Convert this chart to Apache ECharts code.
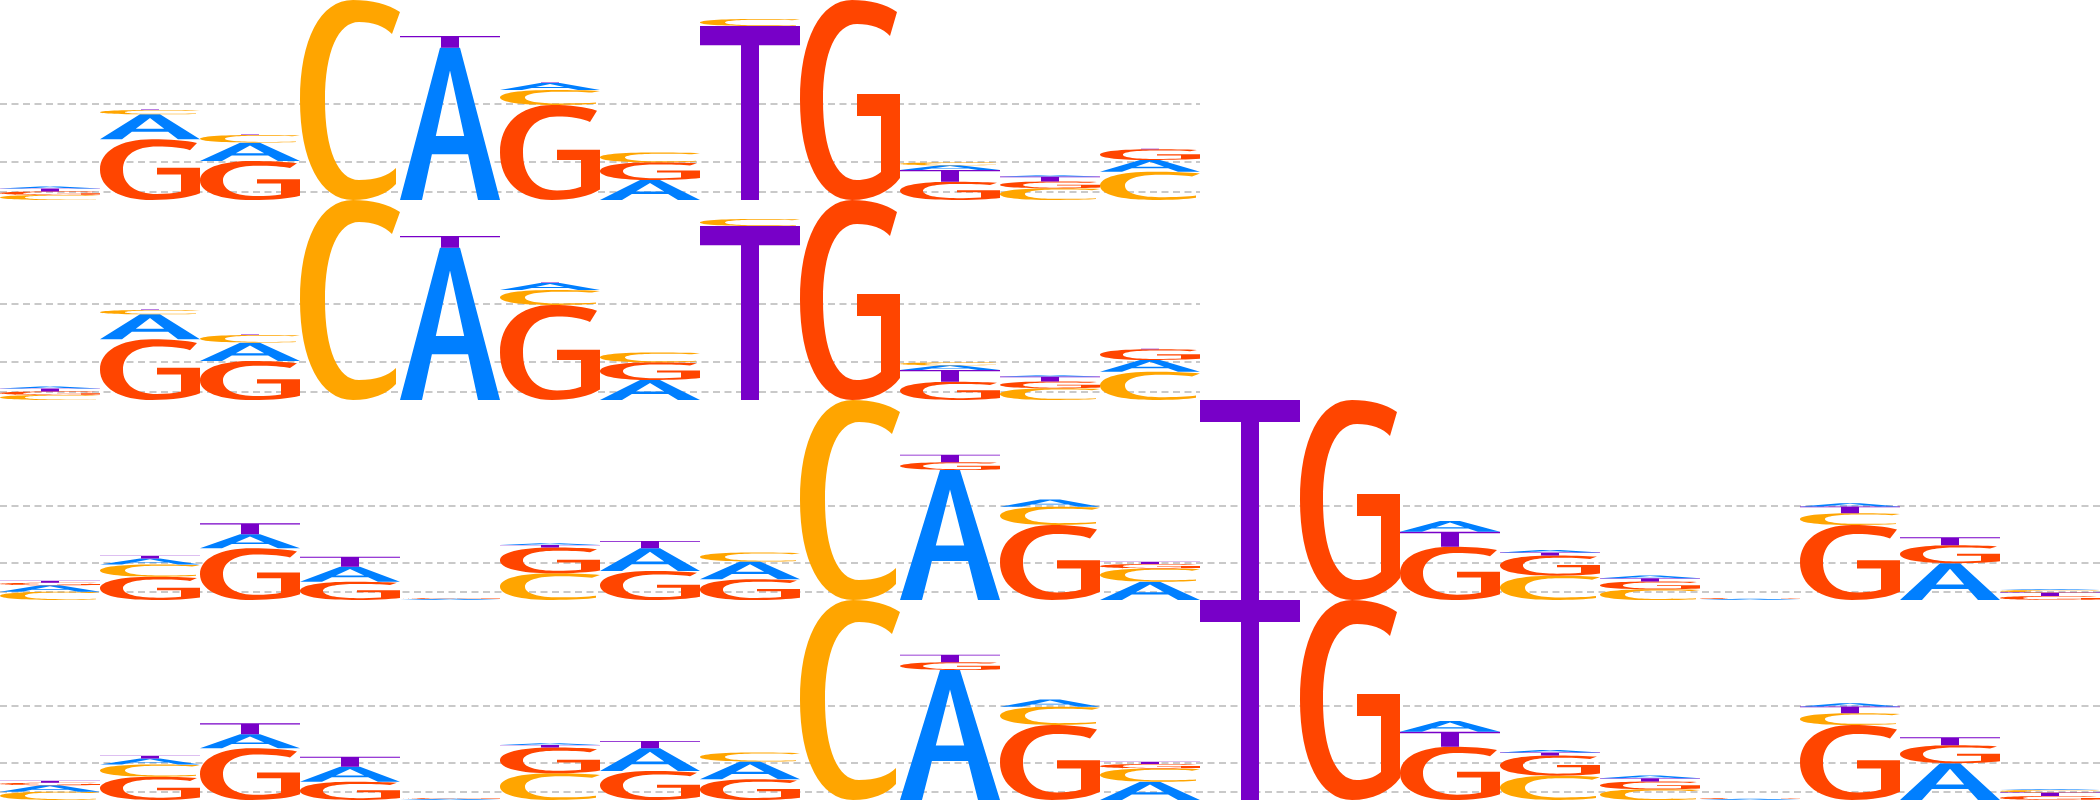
<!DOCTYPE html>
<html>
<head>
<meta charset="utf-8">
<title>Motif logos</title>
<script src="https://cdn.jsdelivr.net/npm/echarts@6.0.0/dist/echarts.min.js"></script>
<style>
html, body { margin: 0; padding: 0; background: #fff; }
#chart { width: 2100px; height: 800px; }
</style>
</head>
<body>
<div id="chart"></div>
<script>
// letter heights in bits, one value per position
const bases = ['A', 'C', 'G', 'T'];

// upper motif, 12 positions (drawn twice)
const upperA = [0.02, 0.25, 0.183, 0, 1.523, 0.07, 0.20, 0, 0, 0.047, 0.013, 0.117];
const upperC = [0.05, 0.043, 0.077, 2.0, 0, 0.15, 0.097, 0.07, 0, 0.027, 0.117, 0.283];
const upperG = [0.035, 0.607, 0.39, 0, 0, 0.95, 0.177, 0, 2.0, 0.183, 0.067, 0.107];
const upperT = [0.03, 0.005, 0.005, 0, 0.117, 0.005, 0, 1.74, 0, 0.117, 0.05, 0.005];

// lower motif, 21 positions (drawn twice)
const lowerA = [0.065, 0.06, 0.14, 0.15, 0.012, 0.017, 0.227, 0.177, 0, 1.30, 0.073, 0.183, 0, 0, 0.107, 0.026, 0.027, 0.012, 0.033, 0.367, 0.01];
const lowerC = [0.083, 0.123, 0, 0, 0, 0.267, 0, 0.09, 2.0, 0, 0.183, 0.133, 0, 0, 0, 0.243, 0.107, 0, 0.117, 0, 0.025];
const lowerG = [0.025, 0.233, 0.517, 0.183, 0.009, 0.257, 0.29, 0.207, 0, 0.078, 0.75, 0.043, 0, 2.0, 0.533, 0.203, 0.077, 0.008, 0.75, 0.18, 0.04];
const lowerT = [0.02, 0.027, 0.11, 0.10, 0, 0.027, 0.073, 0, 0, 0.075, 0, 0.023, 2.0, 0, 0.15, 0.028, 0.033, 0, 0.067, 0.08, 0.035];

// dashed reference lines (bits)
const upperGuides = [0.083, 0.383, 0.96];
const lowerGuides = [0.083, 0.373, 0.943];

const upper = { A: upperA, C: upperC, G: upperG, T: upperT, guides: upperGuides };
const lower = { A: lowerA, C: lowerC, G: lowerG, T: lowerT, guides: lowerGuides };
const rows = [upper, upper, lower, lower];

const colors = { A: '#007FFF', C: '#FFA500', G: '#FF4500', T: '#7800C8' };

// glyph outlines in a 100x100 box, stretched to each cell
const glyphs = {
    A: 'M0 100 L40 0 L60 0 L100 100 L78 100 L68.1 70 L31.9 70 L22 100 Z ' +
       'M35.8 58 L64.2 58 L50 15 Z',
    C: 'M100 6 C88 2 72 0 53 0 C20 0 0 20 0 50 C0 80 20 100 53 100 ' +
       'C72 100 87 97 96 92 L96 84 C88 88 76 90 59 90 C38 90 25 75 25 50 ' +
       'C25 26 38 11 59 11 C73 11 84 13 92 17 Z',
    G: 'M97 6 C86 2 70 0 52 0 C20 0 0 20 0 50 C0 80 20 100 52 100 ' +
       'C72 100 90 96 100 89 L100 47 L57 47 L57 58 L81 58 L81 86 ' +
       'C74 89 65 90 57 90 C36 90 23 75 23 50 C23 26 36 12 57 12 ' +
       'C71 12 83 14 90 18 Z',
    T: 'M0 0 L100 0 L100 11 L59 11 L59 100 L41 100 L41 11 L0 11 Z'
};

// stack letters: largest at the bottom
function buildStacks(row) {
    const out = [];
    const n = row.A.length;
    for (let i = 0; i < n; i++) {
        const items = bases
            .map((b, k) => ({ k: k, h: row[b][i] }))
            .filter(d => d.h > 0)
            .sort((a, b) => b.h - a.h);
        let y = 0;
        items.forEach(d => {
            out.push([i, y, y + d.h, d.k]);
            y += d.h;
        });
    }
    return out;
}

function renderLetter(params, api) {
    const x = api.value(0);
    const y0 = api.value(1);
    const y1 = api.value(2);
    const b = bases[api.value(3)];
    const p0 = api.coord([x, y1]);
    const p1 = api.coord([x + 1, y0]);
    const w = p1[0] - p0[0];
    const h = p1[1] - p0[1];
    if (h <= 0) return;
    return {
        type: 'path',
        x: p0[0],
        y: p0[1],
        scaleX: w / 100,
        scaleY: h / 100,
        shape: { pathData: glyphs[b] },
        style: { fill: colors[b] }
    };
}

const grids = [], xAxes = [], yAxes = [], series = [];
rows.forEach((row, i) => {
    const n = row.A.length;
    grids.push({ left: 0, top: i * 200, width: n * 100, height: 200 });
    xAxes.push({ gridIndex: i, type: 'value', min: 0, max: n, show: false });
    yAxes.push({ gridIndex: i, type: 'value', min: 0, max: 2, show: false });
    series.push({
        type: 'line',
        xAxisIndex: i,
        yAxisIndex: i,
        data: [],
        z: 1,
        silent: true,
        markLine: {
            silent: true,
            symbol: 'none',
            label: { show: false },
            lineStyle: { color: '#b8b8b8', width: 1.6, type: [7, 4.5] },
            data: row.guides.map(v => ({ yAxis: v }))
        }
    });
    series.push({
        type: 'custom',
        xAxisIndex: i,
        yAxisIndex: i,
        z: 5,
        renderItem: renderLetter,
        data: buildStacks(row)
    });
});

const chart = echarts.init(document.getElementById('chart'));
chart.setOption({
    animation: false,
    backgroundColor: '#fff',
    grid: grids,
    xAxis: xAxes,
    yAxis: yAxes,
    series: series
});
</script>
</body>
</html>
